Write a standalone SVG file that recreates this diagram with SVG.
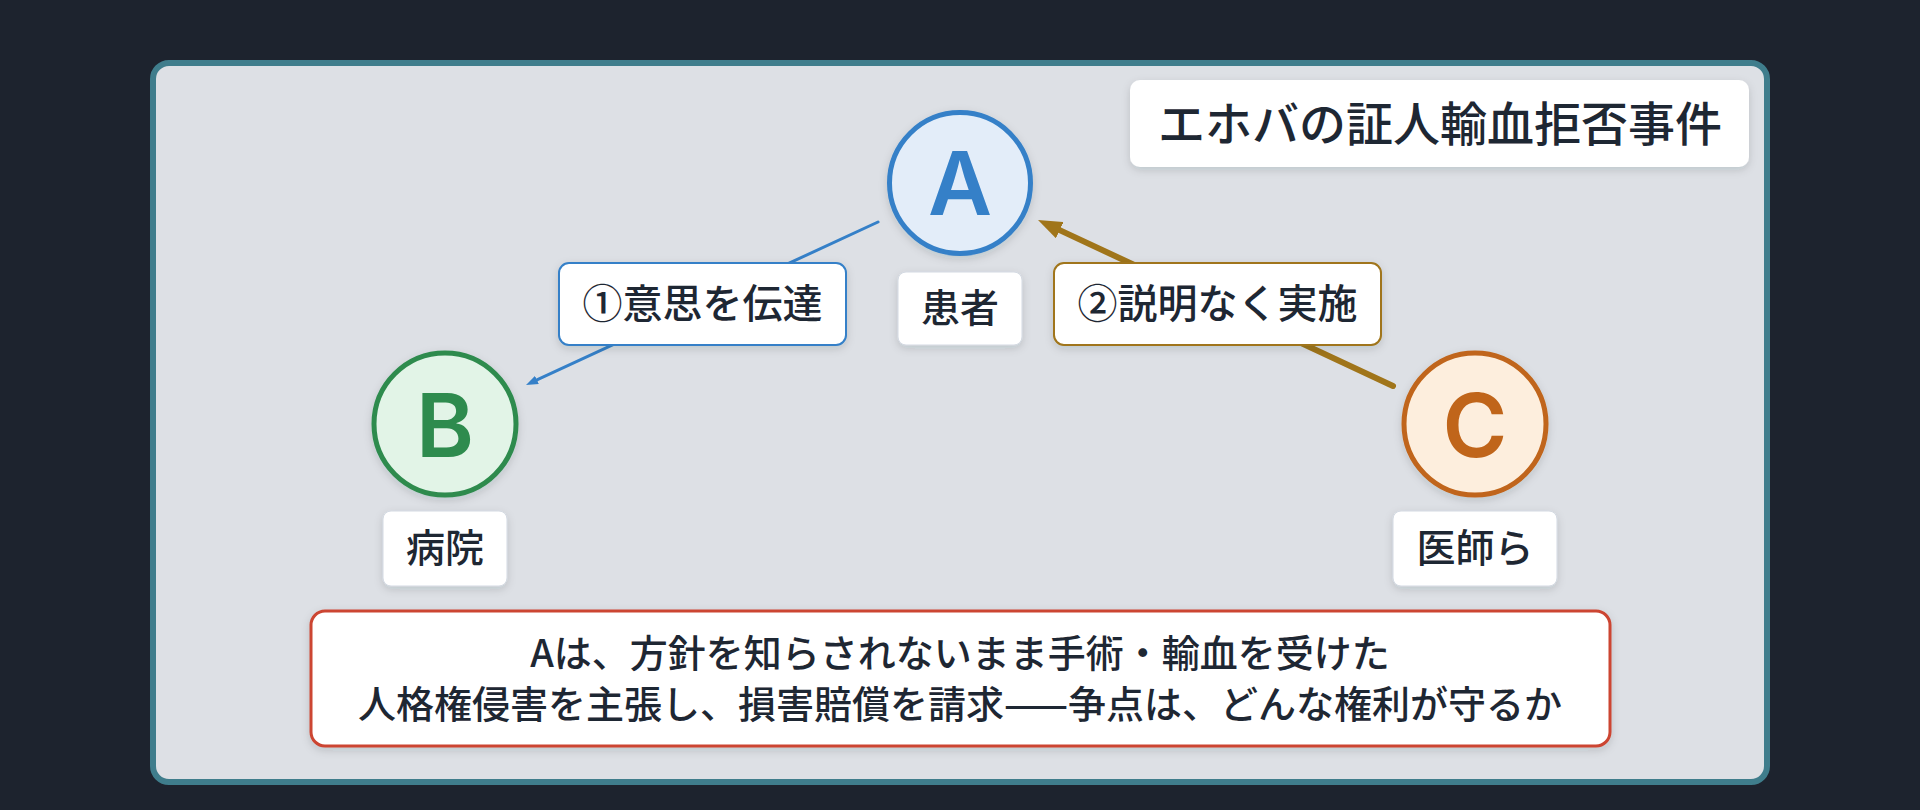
<svg xmlns="http://www.w3.org/2000/svg" width="1920" height="810" viewBox="0 0 1920 810">
<style>
text{font-family:"Noto Sans CJK JP","Noto Sans",sans-serif;font-weight:500;fill:#1e2733;text-anchor:middle}
.nlab{fill:#ffffff;stroke:#d3d9e2;stroke-width:1}
.elab{fill:#ffffff;stroke-width:2}
.big{font-family:Inter,"Noto Sans",sans-serif;font-size:88px;font-weight:600}
.lab{font-size:39px}
.el{font-size:40px}
</style>
<defs>
<filter id="sh" x="-20%" y="-20%" width="140%" height="150%">
<feDropShadow dx="0" dy="3" stdDeviation="4" flood-color="#1e2733" flood-opacity="0.15"/>
</filter>
<marker id="ab" markerUnits="strokeWidth" markerWidth="4" markerHeight="3" refX="1" refY="1.5" orient="auto">
<path d="M0,0 L4,1.5 L0,3 z" fill="#3580c8"/>
</marker>
<marker id="ag" markerUnits="strokeWidth" markerWidth="4" markerHeight="3" refX="1" refY="1.5" orient="auto">
<path d="M0,0 L4,1.5 L0,3 z" fill="#a0751a"/>
</marker>
</defs>
<rect width="1920" height="810" fill="#1d232e"/>
<rect x="153" y="63" width="1614" height="719" rx="16" fill="#dde0e5" stroke="#3f7d8c" stroke-width="6"/>

<g id="connectors">
<line x1="878" y1="222" x2="534.2" y2="381.2" stroke="#3580c8" stroke-width="3" stroke-linecap="round" marker-end="url(#ab)"/>
<line x1="1393" y1="386" x2="1054.3" y2="227.6" stroke="#a0751a" stroke-width="6" stroke-linecap="round" marker-end="url(#ag)"/>
</g>

<g id="title">
<rect x="1130" y="80" width="619" height="87" rx="10" fill="#ffffff" filter="url(#sh)"/>
<text x="1440" y="141" font-size="47">エホバの証人輸血拒否事件</text>
</g>

<g id="nodeA">
<circle cx="960" cy="183" r="70.5" fill="#e3edf9" stroke="#3580c8" stroke-width="5" filter="url(#sh)"/>
<text class="big" x="960" y="215" style="fill:#3580c8">A</text>
<rect class="nlab" x="898" y="272" width="124" height="73" rx="8" filter="url(#sh)"/>
<text class="lab" x="960" y="322">患者</text>
</g>

<g id="nodeB">
<circle cx="445" cy="424" r="71" fill="#e2f4e7" stroke="#2e8b4e" stroke-width="5" filter="url(#sh)"/>
<text class="big" x="445" y="457" style="fill:#2e8b4e">B</text>
<rect class="nlab" x="383" y="511" width="124" height="75" rx="8" filter="url(#sh)"/>
<text class="lab" x="445" y="562">病院</text>
</g>

<g id="nodeC">
<circle cx="1475" cy="424" r="71" fill="#fdeedd" stroke="#c0651a" stroke-width="5" filter="url(#sh)"/>
<text class="big" x="1475" y="457" style="fill:#c0651a">C</text>
<rect class="nlab" x="1393" y="511" width="164" height="75" rx="8" filter="url(#sh)"/>
<text class="lab" x="1475" y="562">医師ら</text>
</g>

<g id="edge1label">
<rect class="elab" x="559" y="263" width="287" height="82" rx="10" stroke="#3580c8" filter="url(#sh)"/>
<text class="el" x="702.5" y="318">①意思を伝達</text>
</g>

<g id="edge2label">
<rect class="elab" x="1054" y="263" width="327" height="82" rx="10" stroke="#a0751a" filter="url(#sh)"/>
<text class="el" x="1217.5" y="318">②説明なく実施</text>
</g>

<g id="summary">
<rect x="311" y="611" width="1299" height="135" rx="14" fill="#ffffff" stroke="#cc4530" stroke-width="3" filter="url(#sh)"/>
<text x="960" y="667" font-size="38">Aは、方針を知らされないまま手術・輸血を受けた</text>
<text x="960" y="718" font-size="38">人格権侵害を主張し、損害賠償を請求——争点は、どんな権利が守るか</text>
</g>
</svg>
